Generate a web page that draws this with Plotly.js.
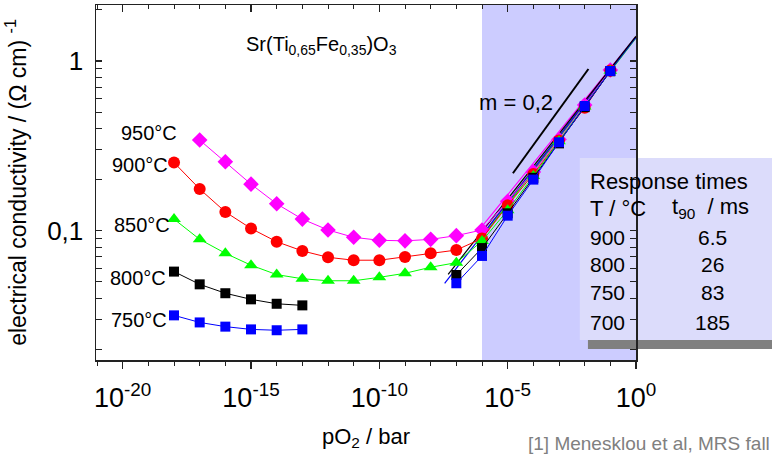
<!DOCTYPE html>
<html>
<head>
<meta charset="utf-8">
<script src="https://cdn.plot.ly/plotly-3.0.1.min.js"></script>
<style>html,body{margin:0;padding:0;background:#fff;}#chart{width:772px;height:457px;}</style>
</head>
<body>
<div id="chart"></div>
<script>
// ---- data ----
const pO2_950 = [1e-17,1e-16,1e-15,1e-14,1e-13,1e-12,1e-11,1e-10,1e-9,1e-8,1e-7,1e-6,1e-5,1e-4,1e-3,1e-2,1e-1];
const sigma_950 = [0.342,0.255,0.188,0.144,0.117,0.101,0.0914,0.0878,0.0871,0.0889,0.0935,0.101,0.149,0.222,0.345,0.55,0.885];

const pO2_900 = [1e-18,1e-17,1e-16,1e-15,1e-14,1e-13,1e-12,1e-11,1e-10,1e-9,1e-8,1e-7,1e-6,1e-5,1e-4,1e-3,1e-2,1e-1];
const sigma_900 = [0.252,0.176,0.129,0.103,0.0861,0.076,0.0697,0.067,0.067,0.070,0.0736,0.0769,0.090,0.141,0.216,0.34,0.53,0.88];

const pO2_850 = [1e-18,1e-17,1e-16,1e-15,1e-14,1e-13,1e-12,1e-11,1e-10,1e-9,1e-8,1e-7,1e-6,1e-5,1e-4,1e-3,1e-2,1e-1];
const sigma_850 = [0.117,0.0889,0.0736,0.0626,0.0551,0.0521,0.0507,0.0507,0.0531,0.0561,0.0609,0.0648,0.0869,0.132,0.21,0.337,0.54,0.875];

const pO2_800 = [1e-18,1e-17,1e-16,1e-15,1e-14,1e-13,null,1e-7,1e-6,1e-5,1e-4,1e-3,1e-2,1e-1];
const sigma_800 = [0.0574,0.0483,0.0428,0.0394,0.0371,0.0363,null,0.0548,0.079,0.1266,0.205,0.327,0.535,0.87];

const pO2_750 = [1e-18,1e-17,1e-16,1e-15,1e-14,1e-13,null,1e-7,1e-6,1e-5,1e-4,1e-3,1e-2,1e-1];
const sigma_750 = [0.0317,0.0288,0.0272,0.0262,0.0259,0.0262,null,0.049,0.071,0.1226,0.2,0.332,0.543,0.873];

// fitted lines (slope ~0.2): [start, end]
const fitX_950 = [1.0e-6, 1];   const fitY_950 = [0.106, 1.39];
const fitX_900 = [1.0e-6, 1];   const fitY_900 = [0.094, 1.38];
const fitX_850 = [6.3e-7, 1];   const fitY_850 = [0.083, 1.37];
const fitX_800 = [4.8e-8, 1];   const fitY_800 = [0.0553, 1.40];
const fitX_750 = [3.5e-8, 1];   const fitY_750 = [0.049, 1.38];

// slope guide line "m = 0,2"
const slopeX = [1.6e-5, 1.4e-2];
const slopeY = [0.218, 0.897];

// axis ticks
const xMajor = [1e-20,1e-15,1e-10,1e-5,1];
const xMajorText = ['10<sup>-20</sup>','10<sup>-15</sup>','10<sup>-10</sup>','10<sup>-5</sup>','10<sup>0</sup>'];
const xMinor = [1e-21,1e-20,1e-19,1e-18,1e-17,1e-16,1e-15,1e-14,1e-13,1e-12,1e-11,1e-10,1e-9,1e-8,1e-7,1e-6,1e-5,1e-4,1e-3,1e-2,1e-1,1];
const yMajor = [0.1, 1];
const yMajorText = ['0,1', '1'];
const yMinor = [0.02,0.03,0.04,0.05,0.06,0.07,0.08,0.09,0.2,0.3,0.4,0.5,0.6,0.7,0.8,0.9,2];

// labels
const tempLabels = ['950°C','900°C','850°C','800°C','750°C'];
const tableTemps = ['900','800','750','700'];
const tableT90 = ['6.5','26','83','185'];
const shadeFrom = 1e-6, shadeTo = 1;

const FONT = 'Liberation Sans, Arial, Helvetica, sans-serif';

function series(x, y, color, symbol, size, name) {
  return {x: x, y: y, type: 'scatter', mode: 'lines+markers', name: name,
    line: {color: color, width: 1}, marker: {color: color, symbol: symbol, size: size},
    connectgaps: false, showlegend: false, hoverinfo: 'x+y'};
}
function fit(x, y, color) {
  return {x: x, y: y, type: 'scatter', mode: 'lines', line: {color: color, width: 1.2},
    showlegend: false, hoverinfo: 'skip'};
}

const traces = [
  fit(fitX_950, fitY_950, '#ff00ff'),
  fit(fitX_900, fitY_900, '#ff0000'),
  fit(fitX_850, fitY_850, '#00ee00'),
  fit(fitX_750, fitY_750, '#0000ff'),
  fit(fitX_800, fitY_800, '#000000'),
  series(pO2_950, sigma_950, '#ff00ff', 'diamond', 12, '950°C'),
  series(pO2_900, sigma_900, '#ff0000', 'circle', 12, '900°C'),
  series(pO2_850, sigma_850, '#00ff00', 'triangle-up', 12, '850°C'),
  series(pO2_800, sigma_800, '#000000', 'square', 10, '800°C'),
  series(pO2_750, sigma_750, '#0000ff', 'square', 10, '750°C'),
  {x: slopeX, y: slopeY, type: 'scatter', mode: 'lines', line: {color: '#000', width: 2}, showlegend: false, hoverinfo: 'skip'},
  // carrier for the top tick axis
  {x: pO2_900, y: sigma_900, xaxis: 'x2', type: 'scatter', mode: 'markers', marker: {opacity: 0}, showlegend: false, hoverinfo: 'skip'}
];

const xr = [-21.04, 0];
const yr = [-1.762, 0.330];

const tempPos = [[0.098,0.639],[0.081,0.549],[0.085,0.380],[0.078,0.231],[0.080,0.113]];
const annotations = [];
tempLabels.forEach((t, i) => annotations.push({xref:'paper', yref:'paper', x: tempPos[i][0], y: tempPos[i][1],
  text: t, showarrow: false, xanchor: 'center', yanchor: 'middle', font: {family: FONT, size: 20, color: '#000'}}));
annotations.push({xref:'paper', yref:'paper', x: 0.4185, y: 0.887, showarrow: false, xanchor:'center', yanchor:'middle',
  text: 'Sr(Ti<sub>0,65</sub>Fe<sub>0,35</sub>)O<sub>3</sub>', font: {family: FONT, size: 20, color: '#000'}});
annotations.push({xref:'paper', yref:'paper', x: 0.778, y: 0.724, showarrow: false, xanchor:'center', yanchor:'middle',
  text: 'm = 0,2', font: {family: FONT, size: 22, color: '#000'}});
// table
const TF = 22, RF = 21;
annotations.push({xref:'paper', yref:'paper', x: 0.911, y: 0.504, showarrow:false, xanchor:'left', yanchor:'middle',
  text: 'Response times', font: {family: FONT, size: TF, color: '#000'}});
annotations.push({xref:'paper', yref:'paper', x: 0.911, y: 0.428, showarrow:false, xanchor:'left', yanchor:'middle',
  text: 'T / °C', font: {family: FONT, size: TF, color: '#000'}});
annotations.push({xref:'paper', yref:'paper', x: 1.063, y: 0.428, showarrow:false, xanchor:'left', yanchor:'middle',
  text: 't<sub>90</sub>  / ms', font: {family: FONT, size: TF, color: '#000'}});
const rowY = [0.346, 0.270, 0.189, 0.107];
tableTemps.forEach((t, i) => {
  annotations.push({xref:'paper', yref:'paper', x: 0.911, y: rowY[i], showarrow:false, xanchor:'left', yanchor:'middle',
    text: t, font: {family: FONT, size: RF, color: '#000'}});
  annotations.push({xref:'paper', yref:'paper', x: 1.141, y: rowY[i], showarrow:false, xanchor:'center', yanchor:'middle',
    text: tableT90[i], font: {family: FONT, size: RF, color: '#000'}});
});
// footnote
annotations.push({xref:'paper', yref:'paper', x: 0.797, y: -0.234, showarrow:false, xanchor:'left', yanchor:'middle',
  text: '[1] Menesklou et al, MRS fall', font: {family: FONT, size: 19, color: '#808080'}});

const layout = {
  width: 772, height: 457,
  margin: {l: 96, r: 136, t: 5, b: 97, pad: 0},
  paper_bgcolor: '#fff', plot_bgcolor: '#fff',
  separators: ',.',
  font: {family: FONT, color: '#000'},
  showlegend: false,
  xaxis: {
    type: 'log', range: xr, showgrid: false, zeroline: false,
    showline: true, linecolor: '#222', linewidth: 1.5, mirror: true,
    tickmode: 'array', tickvals: xMajor, ticktext: xMajorText,
    ticks: 'outside', ticklen: 7, tickwidth: 1.2, tickcolor: '#222',
    minor: {tickmode: 'array', tickvals: xMinor, ticks: 'outside', ticklen: 4, tickwidth: 1, tickcolor: '#222'},
    tickfont: {family: FONT, size: 27, color: '#000'},
    ticklabelstandoff: 6,
    title: {text: 'pO<sub>2</sub> / bar', font: {family: FONT, size: 22, color: '#000'}, standoff: 16}
  },
  xaxis2: {
    type: 'log', range: xr, overlaying: 'x', side: 'top', matches: 'x', anchor: 'y',
    showgrid: false, zeroline: false, showline: false, showticklabels: false,
    tickmode: 'array', tickvals: xMajor,
    ticks: 'inside', ticklen: 7, tickwidth: 1.2, tickcolor: '#222',
    minor: {tickmode: 'array', tickvals: xMinor, ticks: 'inside', ticklen: 4, tickwidth: 1, tickcolor: '#222'}
  },
  yaxis: {
    type: 'log', range: yr, showgrid: false, zeroline: false,
    showline: true, linecolor: '#222', linewidth: 1.5, mirror: 'allticks',
    tickmode: 'array', tickvals: yMajor, ticktext: yMajorText,
    ticks: 'inside', ticklen: 6, tickwidth: 1.2, tickcolor: '#222',
    minor: {tickmode: 'array', tickvals: yMinor, ticks: 'inside', ticklen: 3.5, tickwidth: 1, tickcolor: '#222'},
    tickfont: {family: FONT, size: 26, color: '#000'},
    ticklabelstandoff: 6,
    title: {text: 'electrical conductivity / (Ω cm) <sup>-1</sup>', font: {family: FONT, size: 23, color: '#000'}, standoff: 14}
  },
  shapes: [
    {type: 'rect', xref: 'x', yref: 'paper', x0: shadeFrom, x1: shadeTo, y0: 0, y1: 1,
      fillcolor: '#ccccff', line: {width: 0}, layer: 'below'},
    {type: 'rect', xref: 'paper', yref: 'paper', x0: 0.911, x1: 1.26, y0: 0.031, y1: 0.056,
      fillcolor: '#808080', line: {width: 0}, layer: 'below'},
    {type: 'rect', xref: 'paper', yref: 'paper', x0: 0.896, x1: 1.26, y0: 0.056, y1: 0.569,
      fillcolor: '#dcdcfb', line: {width: 0}, layer: 'below'}
  ],
  annotations: annotations
};

Plotly.newPlot('chart', traces, layout, {displayModeBar: false, staticPlot: true});
</script>
</body>
</html>
